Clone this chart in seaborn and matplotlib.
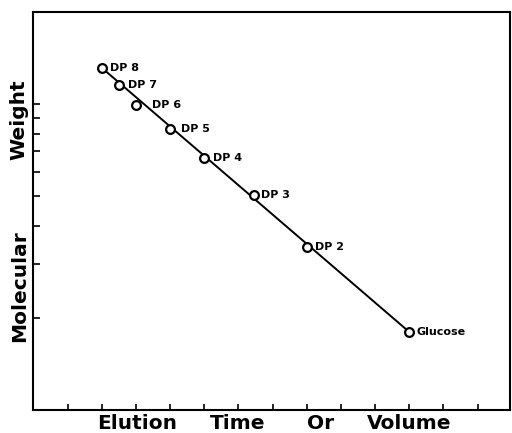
import matplotlib
matplotlib.use("Agg")
import matplotlib.pyplot as plt
import seaborn as sns
import pandas as pd

# ---- data ----
labels = ["DP 8", "DP 7", "DP 6", "DP 5", "DP 4", "DP 3", "DP 2", "Glucose"]
elution = [2.0, 2.5, 3.0, 4.0, 5.0, 6.45, 8.0, 11.0]
mol_weight = [1314, 1152, 990, 828, 666, 504, 342, 180]
label_dx = [6, 6.5, 11.5, 7.5, 6, 5.5, 6, 5.5]  # points

fit_x = [2.0, 11.0]
fit_y = [1314, 180]

x_ticks = list(range(1, 14))
y_ticks = [200, 300, 400, 500, 600, 700, 800, 900, 1000]
x_words = ["Elution", "Time", "Or", "Volume"]
x_word_pos = [3.03, 5.98, 8.4, 11.0]
y_words = ["Molecular", "Weight"]
y_word_pos = [255, 890]

sns.set_theme(style="white")
plt.rcParams["font.family"] = ["DejaVu Sans"]

fig = plt.figure(figsize=(5.12, 4.33), dpi=100)
ax = fig.add_axes([0.0654, 0.0531, 0.9306, 0.9192])

pts = pd.DataFrame({"x": elution, "y": mol_weight, "label": labels})
fit = pd.DataFrame({"x": fit_x, "y": fit_y})

sns.lineplot(data=fit, x="x", y="y", ax=ax, color="black", linewidth=1.4)
sns.scatterplot(data=pts, x="x", y="y", ax=ax, marker="o", s=40,
                facecolors="white", edgecolor="black", linewidth=1.6, zorder=3)

for x, y, lab, dx in zip(elution, mol_weight, labels, label_dx):
    ax.annotate(lab, (x, y), xytext=(dx, 0), textcoords="offset points",
                ha="left", va="center", fontsize=8, fontweight="bold",
                color="black")

ax.set_yscale("log")
ax.set_xlim(0, 13.95)
ax.set_ylim(100, 2000)
ax.set_xticks(x_ticks)
ax.set_yticks(y_ticks)
ax.set_yticks([], minor=True)
ax.set_xticklabels([])
ax.set_yticklabels([])
ax.tick_params(axis="x", direction="in", length=4, width=1.2, bottom=True,
               color="black")
ax.tick_params(axis="y", direction="in", length=5, width=1.2, left=True,
               color="black")
ax.set_xlabel("")
ax.set_ylabel("")
for sp in ax.spines.values():
    sp.set_color("black")
    sp.set_linewidth(1.5)
    sp.set_visible(True)

for w, xp in zip(x_words, x_word_pos):
    ax.text(xp, -0.01, w, transform=ax.get_xaxis_transform(), ha="center",
            va="top", fontsize=14.5, fontweight="bold", color="black")
for w, yp in zip(y_words, y_word_pos):
    ax.text(-0.03, yp, w, transform=ax.get_yaxis_transform(), ha="center",
            va="center", rotation=90, fontsize=14.5, fontweight="bold",
            color="black")

fig.savefig("out.png", dpi=100, facecolor="white")
